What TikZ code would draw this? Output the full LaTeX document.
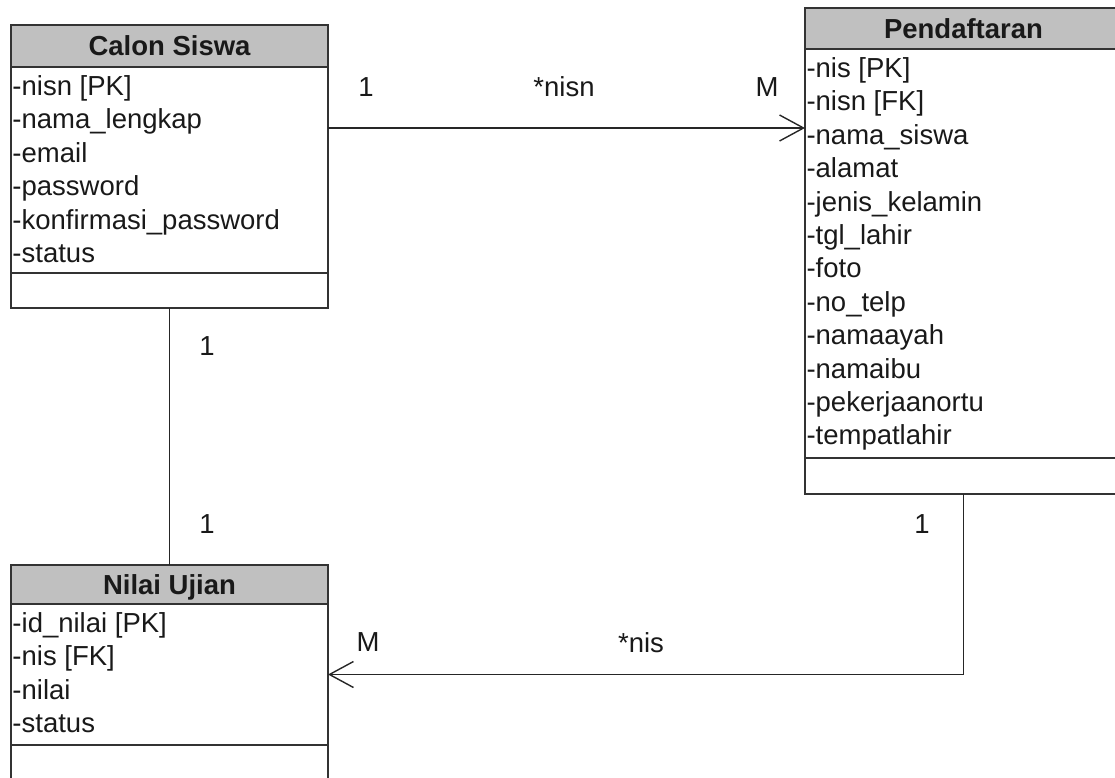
\documentclass[tikz,border=0pt]{standalone}
\usepackage{fontspec}
\setmainfont{Liberation Sans}
\usetikzlibrary{positioning,arrows.meta}
\definecolor{headgray}{HTML}{C0C0C0}
\definecolor{linegray}{HTML}{333333}

\begin{document}
\begin{tikzpicture}[x=1pt, y=-1pt,
  every node/.style={font=\fontsize{27.5}{33}\selectfont, text=black!90, outer sep=0pt},
  classhead/.style={draw=linegray, line width=1.5pt, fill=headgray, minimum width=317pt,
    text height=19.8pt, text depth=0pt, inner sep=0pt, anchor=north west,
    font=\fontsize{27.5}{33}\selectfont\bfseries},
  classpart/.style={draw=linegray, line width=1.5pt, minimum width=317pt, inner sep=0pt},
  attr/.style={anchor=base west, inner sep=0pt},
  mult/.style={anchor=base, inner sep=0pt},
  assoc/.style={draw=black!85, line width=1.4pt},
  navi/.style={assoc, -{Straight Barb[length=24pt, width=26pt]}}]
  \useasboundingbox (0,0) rectangle (1115,778);
  % Calon Siswa
  \node[classhead, minimum height=42pt] (calonH) at (11,25) {Calon Siswa};
  \node[classpart, minimum height=206pt, below=0pt of calonH] (calonA) {};
  \node[classpart, minimum height=35pt, below=0pt of calonA] (calonM) {};
  \foreach \t [count=\i from 0] in {-nisn [PK], -nama\_lengkap, -email, -password,
      -konfirmasi\_password, -status}
    \path (calonA.north west) ++(1.5, 28.5+33.4*\i) node[attr] (calon-\i) {\t};
  % Pendaftaran
  \node[classhead, minimum height=41pt] (pendH) at (805,8) {Pendaftaran};
  \node[classpart, minimum height=409pt, below=0pt of pendH] (pendA) {};
  \node[classpart, minimum height=36pt, below=0pt of pendA] (pendM) {};
  \foreach \t [count=\i from 0] in {-nis [PK], -nisn [FK], -nama\_siswa, -alamat,
      -jenis\_kelamin, -tgl\_lahir, -foto, -no\_telp, -namaayah, -namaibu,
      -pekerjaanortu, -tempatlahir}
    \path (pendA.north west) ++(1.5, 28.5+33.4*\i) node[attr] (pend-\i) {\t};
  % Nilai Ujian
  \node[classhead, minimum height=39pt] (nilaiH) at (11,565) {Nilai Ujian};
  \node[classpart, minimum height=141pt, below=0pt of nilaiH] (nilaiA) {};
  \node[classpart, minimum height=45pt, below=0pt of nilaiA] (nilaiM) {};
  \foreach \t [count=\i from 0] in {-id\_nilai [PK], -nis [FK], -nilai, -status}
    \path (nilaiA.north west) ++(1.5, 28.5+33.4*\i) node[attr] (nilai-\i) {\t};
  % Calon Siswa -> Pendaftaran
  \coordinate (nisnout) at ([yshift=-61pt]calonA.north east);
  \draw[navi] (nisnout) -- (nisnout -| pendA.west);
  \node[mult] (nisn1) at (366,97) {1};
  \node[mult] (nisnkey) at (564,97) {*nisn};
  \node[mult] (nisnM) at (767,97) {M};
  % Calon Siswa -- Nilai Ujian
  \draw[assoc] (calonM.south) -- (nilaiH.north);
  \node[mult] (nilai1a) at (207,355) {1};
  \node[mult] (nilai1b) at (207,533) {1};
  % Pendaftaran -> Nilai Ujian
  \draw[navi] (pendM.south) |- (nilaiA.east);
  \node[mult] (nis1) at (922,533) {1};
  \node[mult] (niskey) at (641,652) {*nis};
  \node[mult] (nisM) at (368,651) {M};
\end{tikzpicture}
\end{document}
